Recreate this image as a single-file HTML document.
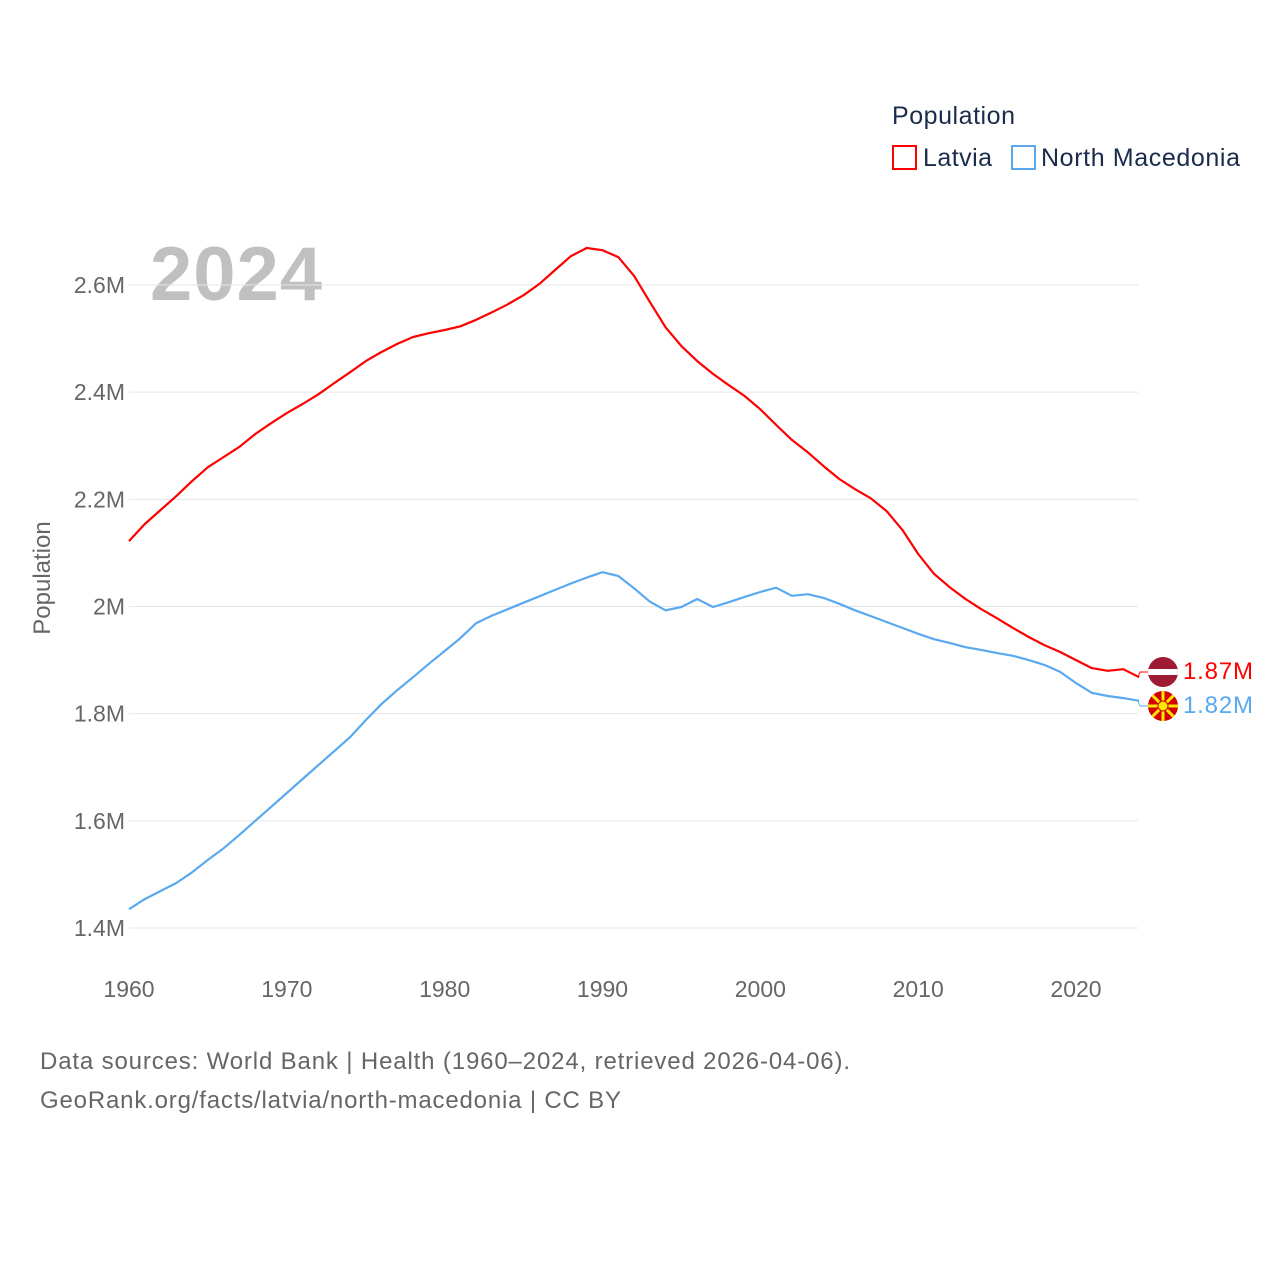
<!DOCTYPE html>
<html><head><meta charset="utf-8"><style>
body{margin:0;background:#fff;font-family:"Liberation Sans",sans-serif;}
</style></head><body>
<svg id="chart" width="1280" height="1280" xmlns="http://www.w3.org/2000/svg" font-family="Liberation Sans, sans-serif">
<text x="892" y="124" font-size="25" fill="#1a2b4c" textLength="123">Population</text>
<g><rect x="893" y="146" width="23" height="23" fill="none" stroke="#ff0000" stroke-width="2"/><text x="923" y="166" font-size="25" fill="#1a2b4c" textLength="69">Latvia</text></g>
<g><rect x="1012" y="146" width="23" height="23" fill="none" stroke="#5aa9f0" stroke-width="2"/><text x="1041" y="166" font-size="25" fill="#1a2b4c" textLength="199">North Macedonia</text></g>
<text x="150" y="300" font-size="76" font-weight="bold" fill="#c0c0c0" textLength="172">2024</text>
<text transform="translate(50,578) rotate(-90)" text-anchor="middle" font-size="24" fill="#666">Population</text>
<g id="grid"></g><g id="series"></g>
<g>
<polyline points="1138,677 1140,672 1148,672" fill="none" stroke="#ff0000" stroke-width="1"/>
<polyline points="1138,701 1140,706 1148,706" fill="none" stroke="#5aa9f0" stroke-width="1"/>
<g><clipPath id="c1"><circle cx="1163" cy="672" r="15"/></clipPath><g clip-path="url(#c1)"><rect x="1148" y="657" width="30" height="30" fill="#9e1b34"/><rect x="1148" y="669" width="30" height="6" fill="#fff"/></g></g>
<g><clipPath id="c2"><circle cx="1163" cy="706" r="15"/></clipPath><g clip-path="url(#c2)"><rect x="1148" y="691" width="30" height="30" fill="#d20000"/><g stroke="#ffe600" stroke-width="3"><line x1="1148" y1="706" x2="1178" y2="706"/><line x1="1163" y1="691" x2="1163" y2="721"/><line x1="1148" y1="691" x2="1178" y2="721"/><line x1="1178" y1="691" x2="1148" y2="721"/></g><circle cx="1163" cy="706" r="5" fill="#ffe600" stroke="#d20000" stroke-width="1"/></g></g>
<text x="1183" y="679" font-size="24" fill="#ff0000" textLength="70">1.87M</text>
<text x="1183" y="713" font-size="24" fill="#5aa9f0" textLength="70">1.82M</text>
</g>
<text x="40" y="1069" font-size="24" fill="#666" textLength="810">Data sources: World Bank | Health (1960–2024, retrieved 2026-04-06).</text>
<text x="40" y="1108" font-size="24" fill="#666" textLength="581">GeoRank.org/facts/latvia/north-macedonia | CC BY</text>
</svg>
<script>
const years=[];for(let y=1960;y<=2024;y++)years.push(y);
const latvia=[2.122,2.154,2.180,2.206,2.234,2.260,2.279,2.298,2.322,2.342,2.361,2.378,2.396,2.417,2.437,2.458,2.475,2.490,2.503,2.510,2.516,2.523,2.535,2.549,2.564,2.581,2.602,2.628,2.654,2.669,2.665,2.652,2.617,2.568,2.521,2.486,2.458,2.434,2.413,2.393,2.368,2.339,2.311,2.288,2.262,2.238,2.219,2.202,2.178,2.143,2.098,2.061,2.036,2.014,1.995,1.978,1.960,1.943,1.928,1.915,1.900,1.885,1.880,1.883,1.868];
const macedonia=[1.435,1.454,1.469,1.484,1.504,1.527,1.549,1.574,1.600,1.626,1.652,1.678,1.704,1.730,1.756,1.788,1.818,1.844,1.868,1.893,1.917,1.941,1.969,1.983,1.995,2.007,2.019,2.031,2.043,2.054,2.064,2.057,2.034,2.009,1.993,1.999,2.014,1.999,2.008,2.018,2.027,2.035,2.020,2.023,2.016,2.005,1.993,1.982,1.971,1.960,1.949,1.939,1.932,1.924,1.919,1.913,1.908,1.900,1.891,1.878,1.857,1.839,1.833,1.829,1.824];
const yTicks=[1.4,1.6,1.8,2.0,2.2,2.4,2.6];
const yTickLabels=["1.4M","1.6M","1.8M","2M","2.2M","2.4M","2.6M"];
const xTicks=[1960,1970,1980,1990,2000,2010,2020];
const NS="http://www.w3.org/2000/svg";
const X=y=>129+(y-1960)*(947/60);
const Y=v=>928-(v-1.4)*(643/1.2);
const grid=document.getElementById('grid');
function mk(t,a,p){const e=document.createElementNS(NS,t);for(const k in a)e.setAttribute(k,a[k]);p.appendChild(e);return e;}
yTicks.forEach((v,i)=>{
 const l=mk('line',{x1:129,x2:1138,y1:Y(v),y2:Y(v),stroke:'#e6e6e6','stroke-width':1},grid);
 
 
 const t=mk('text',{x:125,y:Y(v)+8,'text-anchor':'end','font-size':23,fill:'#666'},grid);
 t.textContent=yTickLabels[i];
 
 
});
xTicks.forEach(v=>{
 const t=mk('text',{x:X(v),y:997,'text-anchor':'middle','font-size':23,fill:'#666'},grid);
 t.textContent=v;
 
 
});
const s=document.getElementById('series');
[[latvia,'#ff0000','latvia-line'],[macedonia,'#5aa9f0','north-macedonia-line']].forEach(([d,c,n])=>{
 const p=mk('polyline',{points:d.map((v,i)=>X(years[i]).toFixed(1)+','+Y(v).toFixed(1)).join(' '),fill:'none',stroke:c,'stroke-width':2.2,'stroke-linejoin':'round'},s);
 
 
});
</script>
</body></html>
